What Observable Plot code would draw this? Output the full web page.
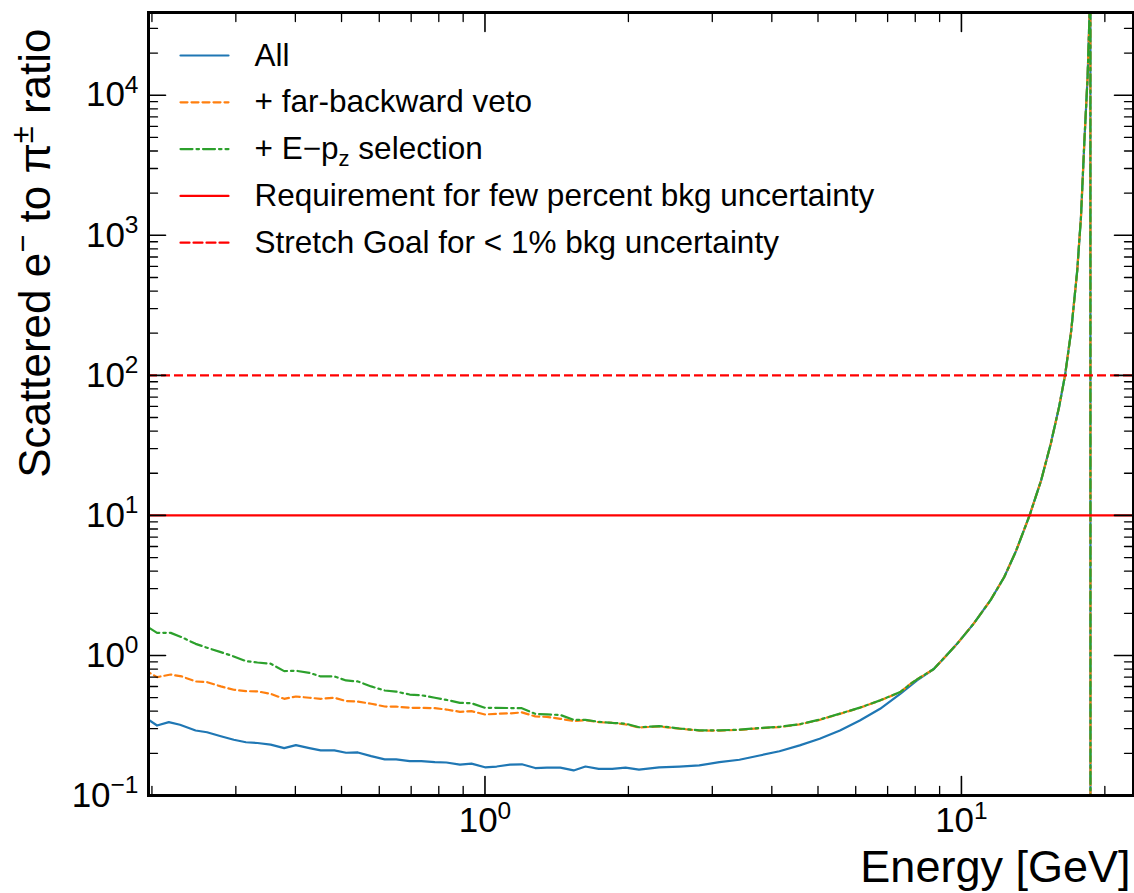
<!DOCTYPE html>
<html><head><meta charset="utf-8">
<script src="https://cdn.jsdelivr.net/npm/d3@7"></script>
<script src="https://cdn.jsdelivr.net/npm/@observablehq/plot@0.6"></script>
<style>html,body{margin:0;padding:0;background:#fff;} #chart{width:1134px;height:893px;}</style>
</head><body><div id="chart"></div>
<script>
// ---- data ----
const energyAll = [0.193,0.205,0.217,0.229,0.247,0.261,0.279,0.297,0.315,0.333,0.355,0.379,0.401,0.428,0.452,0.483,0.511,0.541,0.577,0.616,0.651,0.695,0.735,0.785,0.830,0.886,0.937,1.000,1.058,1.129,1.195,1.275,1.349,1.439,1.535,1.625,1.733,1.849,1.973,2.105,2.32,2.557,2.817,3.104,3.42,3.77,4.15,4.577,5.04,5.56,6.12,6.75,7.44,8.07];
const ratioAll  = [0.363,0.316,0.334,0.320,0.291,0.283,0.265,0.250,0.240,0.237,0.231,0.218,0.229,0.218,0.210,0.210,0.202,0.203,0.191,0.181,0.181,0.176,0.176,0.173,0.172,0.166,0.169,0.159,0.161,0.166,0.167,0.157,0.158,0.158,0.151,0.161,0.155,0.155,0.158,0.153,0.159,0.161,0.164,0.173,0.180,0.193,0.207,0.228,0.254,0.291,0.343,0.416,0.532,0.663];

const energyVeto = [0.193,0.205,0.219,0.231,0.247,0.261,0.279,0.297,0.315,0.333,0.355,0.379,0.401,0.428,0.452,0.483,0.511,0.541,0.577,0.616,0.651,0.695,0.735,0.785,0.830,0.886,0.937,1.000,1.058,1.129,1.195,1.275,1.349,1.439,1.535,1.625,1.733,1.849,1.973,2.105,2.32,2.557,2.817,3.104,3.42,3.77,4.15,4.577,5.04,5.56,6.12,6.75,7.44,7.82,8.07];
const ratioVeto  = [0.790,0.700,0.731,0.708,0.652,0.645,0.601,0.569,0.556,0.554,0.532,0.490,0.509,0.499,0.490,0.499,0.472,0.469,0.452,0.432,0.431,0.423,0.423,0.420,0.411,0.396,0.400,0.379,0.383,0.386,0.392,0.367,0.364,0.353,0.340,0.345,0.334,0.330,0.322,0.306,0.311,0.300,0.291,0.291,0.294,0.302,0.308,0.322,0.347,0.383,0.423,0.477,0.547,0.628,0.675];

const energyEpz = [0.197,0.205,0.219,0.231,0.247,0.261,0.279,0.297,0.315,0.333,0.355,0.379,0.401,0.428,0.452,0.483,0.511,0.541,0.577,0.616,0.651,0.695,0.735,0.785,0.830,0.886,0.937,1.000,1.058,1.129,1.195,1.275,1.349,1.439,1.535,1.625,1.733,1.849,1.973,2.105,2.32,2.557,2.817,3.104,3.42,3.77,4.15,4.577,5.04,5.56,6.12,6.75,7.44,7.82,8.07];
const ratioEpz  = [1.58,1.45,1.45,1.35,1.21,1.135,1.056,0.984,0.911,0.891,0.873,0.773,0.778,0.752,0.708,0.708,0.663,0.652,0.601,0.562,0.552,0.526,0.520,0.499,0.482,0.459,0.456,0.423,0.423,0.421,0.420,0.383,0.379,0.376,0.347,0.347,0.336,0.330,0.326,0.307,0.313,0.301,0.292,0.292,0.295,0.303,0.309,0.323,0.348,0.384,0.424,0.478,0.548,0.628,0.675];

// high-energy part where the three curves coincide (last point: empty bin, drawn as drop)
const energyTail = [8.75,9.3,9.79,10.6,11.5,12.3,13.0,13.9,14.7,15.4,16.03,16.5,17.0,17.5,17.82,18.12,18.4,18.65,18.66];
const ratioTail  = [0.80,1.0,1.21,1.68,2.47,3.63,5.5,10,17.8,32.5,59.4,100,209,560,1350,4770,13500,60000,0.001];

const seriesNames  = ["All", "+ far-backward veto", "+ E\u2212p_{z} selection"];
const seriesColors = ["#1f77b4", "#ff7f0e", "#2ca02c"];
const seriesDashes = [null, "7,4", "12,4,2.5,4"];

const thresholdValues = [10, 100];
const thresholdNames  = ["Requirement for few percent bkg uncertainty", "Stretch Goal for < 1% bkg uncertainty"];
const thresholdDashes = [null, "9,4"];
const thresholdColor = "#ff0000";

const xMajorTicks = [1, 10];
const xMinorTicks = [0.2,0.3,0.4,0.5,0.6,0.7,0.8,0.9,2,3,4,5,6,7,8,9,20];
const yMajorTicks = [0.1, 1, 10, 100, 1000, 10000];
const yMinorTicks = [0.2,0.3,0.4,0.5,0.6,0.7,0.8,0.9,2,3,4,5,6,7,8,9,20,30,40,50,60,70,80,90,200,300,400,500,600,700,800,900,2000,3000,4000,5000,6000,7000,8000,9000,20000,30000];
const xTickLabels = ["10^{0}", "10^{1}"];
const yTickLabels = ["10^{\u22121}", "10^{0}", "10^{1}", "10^{2}", "10^{3}", "10^{4}"];

const xLabel = "Energy [GeV]";
const yLabel = "Scattered e^{\u2212} to \u03c0^{\u00b1} ratio";

// ---- table ----
const rows = [];
[[energyAll, ratioAll], [energyVeto, ratioVeto], [energyEpz, ratioEpz]].forEach(([es, rs], k) => {
  const rr = rs.concat(ratioTail);
  es.concat(energyTail).forEach((e, i) => rows.push({series: seriesNames[k], energy: e, ratio: rr[i]}));
});

const lineShape = {draw(ctx, l) { ctx.moveTo(0, 0); ctx.lineTo(0, -l); }};
const tickMarks = (values, anchor, rotate, length, sw) => Plot.vector(values, {
  ...(anchor === "bottom" || anchor === "top" ? {x: d => d} : {y: d => d}),
  frameAnchor: anchor, rotate, length, anchor: "start", shape: lineShape, stroke: "black", strokeWidth: sw
});

const legendItems = [
  {label: seriesNames[0], color: seriesColors[0], dash: seriesDashes[0]},
  {label: seriesNames[1], color: seriesColors[1], dash: seriesDashes[1]},
  {label: seriesNames[2], color: seriesColors[2], dash: seriesDashes[2]},
  {label: thresholdNames[0], color: thresholdColor, dash: thresholdDashes[0]},
  {label: thresholdNames[1], color: thresholdColor, dash: thresholdDashes[1]}
];
const legendMarks = legendItems.flatMap((it, i) => [
  Plot.vector([it], {frameAnchor: "top-left", dx: 32, dy: 43 + i * 46.8, rotate: 90, length: 48, anchor: "start",
    shape: lineShape, stroke: it.color, strokeWidth: 2.2, strokeDasharray: it.dash || undefined}),
  Plot.text([it], {frameAnchor: "top-left", dx: 106, dy: 43 + i * 46.8, text: d => d.label, textAnchor: "start",
    lineAnchor: "middle", fontSize: 31.5})
]);

const chart = Plot.plot({
  width: 1134, height: 893,
  marginLeft: 148, marginRight: 1, marginTop: 12, marginBottom: 98,
  style: {fontFamily: "'Liberation Sans', Arial, Helvetica, sans-serif", background: "#fff", color: "black"},
  x: {type: "log", domain: [0.1967, 22.97]},
  y: {type: "log", domain: [0.1, 39000]},
  marks: [
    ...seriesNames.map((s, k) => Plot.line(rows.filter(d => d.series === s), {
      x: "energy", y: "ratio", stroke: seriesColors[k], strokeWidth: 2.2,
      strokeDasharray: seriesDashes[k] || undefined, clip: true
    })),
    ...thresholdValues.map((v, k) => Plot.ruleY([v], {stroke: thresholdColor, strokeWidth: 2.2, strokeDasharray: thresholdDashes[k] || undefined})),
    tickMarks(xMajorTicks, "bottom", 0, 19, 1.6),
    tickMarks(xMinorTicks, "bottom", 0, 9, 1.3),
    tickMarks(xMajorTicks, "top", 180, 19, 1.6),
    tickMarks(xMinorTicks, "top", 180, 9, 1.3),
    tickMarks(yMajorTicks, "left", 90, 17, 1.6),
    tickMarks(yMinorTicks, "left", 90, 9, 1.3),
    tickMarks(yMajorTicks, "right", -90, 19, 1.6),
    tickMarks(yMinorTicks, "right", -90, 9, 1.3),
    Plot.frame({stroke: "black", strokeWidth: 3}),
    Plot.axisX(xMajorTicks, {anchor: "bottom", tickSize: 0, tickPadding: 12, fontSize: 35, label: null,
      tickFormat: d => xTickLabels[xMajorTicks.indexOf(d)]}),
    Plot.axisY(yMajorTicks, {anchor: "left", tickSize: 0, tickPadding: 10, fontSize: 35, label: null,
      tickFormat: d => yTickLabels[yMajorTicks.indexOf(d)]}),
    Plot.text([xLabel], {frameAnchor: "bottom-right", text: d => d, textAnchor: "end", lineAnchor: "bottom", dx: -3, dy: 86, fontSize: 45}),
    Plot.text([yLabel], {frameAnchor: "top-left", text: d => d, rotate: -90, textAnchor: "end", lineAnchor: "bottom", dx: -99, dy: 16, fontSize: 44}),
    ...legendMarks
  ]
});

// rich text: ^{...} superscript, _{...} subscript
function richify(svg) {
  const NS = "http://www.w3.org/2000/svg";
  svg.querySelectorAll("text").forEach(el => {
    const s = el.textContent;
    if (!/[\^_]\{/.test(s)) return;
    while (el.firstChild) el.removeChild(el.firstChild);
    let pending = 0;
    const push = (txt, kind) => {
      if (!txt) return;
      const t = document.createElementNS(NS, "tspan");
      t.textContent = txt;
      if (kind) {
        t.setAttribute("font-size", "0.7em");
        t.setAttribute("dy", kind === "^" ? "-0.55em" : "0.3em");
        pending = kind === "^" ? 0.385 : -0.21;
      } else if (pending) { t.setAttribute("dy", pending + "em"); pending = 0; }
      el.appendChild(t);
    };
    const re = /([\^_])\{([^}]*)\}/g;
    let last = 0, m;
    while ((m = re.exec(s))) { push(s.slice(last, m.index)); push(m[2], m[1]); last = re.lastIndex; }
    push(s.slice(last));
  });
}
richify(chart);
document.getElementById("chart").appendChild(chart);
</script></body></html>
